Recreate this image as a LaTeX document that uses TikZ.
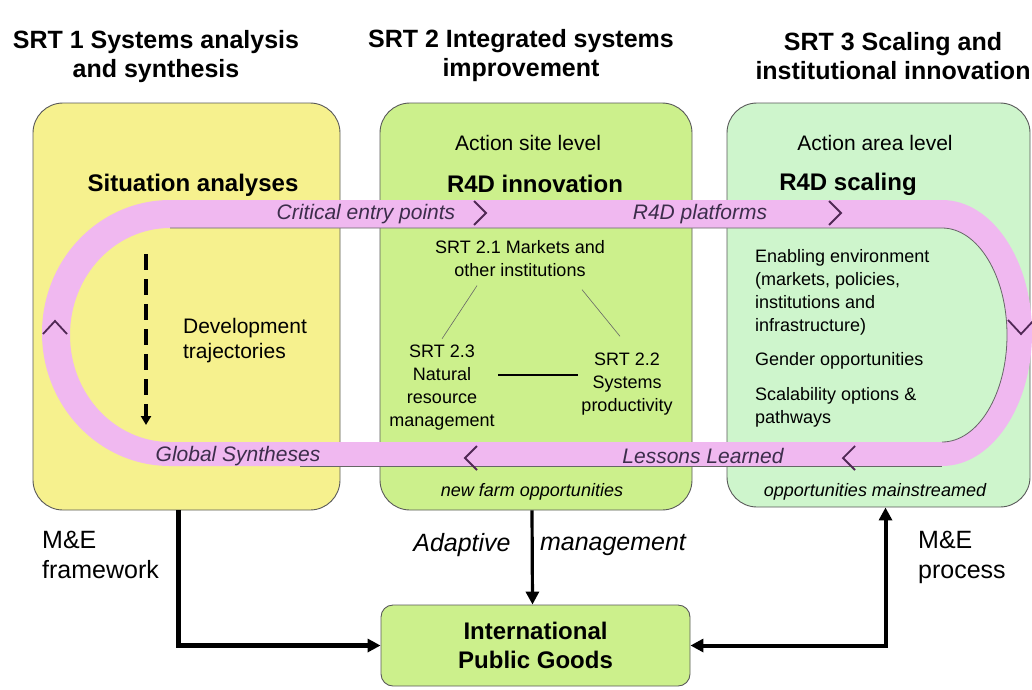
\documentclass[tikz,border=0pt]{standalone}
\usepackage{fontspec}
\setmainfont{Liberation Sans}
\usetikzlibrary{arrows.meta}

\definecolor{srtyellow}{RGB}{246,241,142}
\definecolor{srtgreen}{RGB}{204,240,140}
\definecolor{srtmint}{RGB}{206,245,204}
\definecolor{loopband}{RGB}{240,184,240}
\definecolor{chevron}{RGB}{80,40,85}
\definecolor{looptext}{RGB}{60,45,75}

\begin{document}
\begin{tikzpicture}[x=1pt, y=-1pt,
            panel/.style={draw=black!65, line width=0.9pt, rounded corners=30pt, inner sep=0pt},
            title/.style={font=\fontsize{25}{29}\selectfont\bfseries, align=center},
            level/.style={font=\fontsize{21}{25}\selectfont},
            head/.style={font=\fontsize{24}{28}\selectfont\bfseries},
            looplabel/.style={font=\fontsize{21}{25}\selectfont\itshape, text=looptext},
            small/.style={font=\fontsize{18}{23}\selectfont, align=center},
            note/.style={font=\fontsize{18}{22}\selectfont\itshape},
            side/.style={font=\fontsize{25}{30}\selectfont, align=left, anchor=west, inner sep=0pt},
            chev/.style={draw=chevron, line width=1.8pt},
            flow/.style={line width=4pt, -{Triangle[length=13pt,width=13pt]}}
        ]

        \useasboundingbox (0,0) rectangle (1032,689);

        \node [title] (T1) at (156, 57) {SRT 1 Systems analysis\\and synthesis};
        \node [title] (T2) at (521, 56) {SRT 2 Integrated systems\\improvement};
        \node [title] (T3) at (893, 56) {SRT 3 Scaling and\\institutional innovation};

        \node [panel, fill=srtyellow, minimum width=307pt, minimum height=407pt] (Box1) at (186.5, 306.5) {};
        \node [panel, fill=srtgreen, minimum width=312pt, minimum height=407pt] (Box2) at (536, 306.5) {};
        \node [panel, fill=srtmint, minimum width=303pt, minimum height=404pt] (Box3) at (878.5, 305) {};

        % feedback loop
        \fill [loopband, even odd rule]
            (170, 200) -- (942, 200) arc [start angle=-90, end angle=90, x radius=90, y radius=133]
            -- (170, 466) arc [start angle=90, end angle=270, x radius=128, y radius=133] -- cycle
            (170, 228) -- (942, 228) arc [start angle=-90, end angle=90, x radius=65, y radius=107]
            -- (170, 442) arc [start angle=90, end angle=270, x radius=100, y radius=107] -- cycle;
        \draw [black!60, line width=0.8pt] (170, 228) -- (942, 228)
            arc [start angle=-90, end angle=90, x radius=65, y radius=107];
        \draw [black!60, line width=0.8pt] (300, 466) -- (942, 466);

        \draw [chev] (474, 201) -- (486, 213) -- (474, 225);
        \draw [chev] (829, 201) -- (841, 213) -- (829, 225);
        \draw [chev] (477, 446) -- (465, 458) -- (477, 470);
        \draw [chev] (855, 446) -- (843, 458) -- (855, 470);
        \draw [chev] (43, 334) -- (55, 321) -- (67, 334);
        \draw [chev] (1008, 320) -- (1021, 334) -- (1034, 320);

        \node [looplabel] (Entry) at (366, 214) {Critical entry points};
        \node [looplabel] (Platf) at (700, 214) {R4D platforms};
        \node [looplabel] (GSyn) at (238, 456) {Global Syntheses};
        \node [looplabel] (Lessons) at (703, 456) {Lessons Learned};

        % SRT 1
        \node [head] (Sit) at (193, 185) {Situation analyses};
        \node [level, align=left] (Dev) at (245, 341) {Development\\trajectories};
        \coordinate (DevTop) at (146, 254);
        \coordinate (DevEnd) at (146, 425);
        \draw [line width=4pt, dash pattern=on 16pt off 9pt, -{Triangle[length=9pt,width=10pt]}] (DevTop) -- (DevEnd);

        % SRT 2
        \node [level] (Site) at (528, 143) {Action site level};
        \node [head] (Innov) at (535, 184) {R4D innovation};
        \node [small] (S21) at (520, 259) {SRT 2.1 Markets and\\other institutions};
        \node [small] (S23) at (442, 388) {SRT 2.3\\Natural\\resource\\management};
        \node [small] (S22) at (627, 384) {SRT 2.2\\Systems\\productivity};
        \draw [black!60, line width=0.6pt] ([xshift=-43pt, yshift=-5pt]S21.south) -- ([yshift=3pt]S23.north);
        \draw [black!60, line width=0.6pt] ([xshift=62pt, yshift=-9pt]S21.south) -- ([xshift=-7pt, yshift=13pt]S22.north);
        \draw [line width=1.4pt] ([yshift=13pt]S23.east) -- ([yshift=13pt]S23.east -| S22.west);
        \node [note] (NewFarm) at (532, 492) {new farm opportunities};

        % SRT 3
        \node [level] (Area) at (875, 143) {Action area level};
        \node [head] (Scal) at (848, 184) {R4D scaling};
        \node [small, align=left, anchor=west, inner sep=0pt] (Env) at (755, 292) {Enabling environment\\(markets, policies,\\institutions and\\infrastructure)};
        \node [small, anchor=west, inner sep=0pt] (Gender) at (755, 361) {Gender opportunities};
        \node [small, align=left, anchor=west, inner sep=0pt] (Paths) at (755, 407) {Scalability options \&\\pathways};
        \node [note] (Main) at (875, 492) {opportunities mainstreamed};

        % bottom
        \node [panel, rounded corners=12pt, fill=srtgreen, minimum width=309pt, minimum height=81pt,
            font=\fontsize{24}{29}\selectfont\bfseries, align=center] (IPG) at (535.5, 645.5) {International\\Public Goods};

        \draw [flow, line width=4.5pt] ([xshift=-8pt]Box1.south) |- (IPG.west);
        \draw [flow, line width=3.2pt] ([xshift=-4pt]Box2.south) -- ([xshift=-3pt]IPG.north);
        \draw [flow, {Triangle[length=13pt,width=13pt]}-{Triangle[length=13pt,width=13pt]}] (IPG.east) -| ([xshift=7pt]Box3.south);

        \node [side] (MEF) at (42, 555) {M\&E\\framework};
        \node [side, font=\fontsize{25}{30}\selectfont\itshape, anchor=center] (Adapt) at (462, 545) {Adaptive};
        \node [side, font=\fontsize{25}{30}\selectfont\itshape, anchor=center] (Manage) at (613, 545) {management};
        \node [side] (MEP) at (918, 557) {M\&E\\process};

        \end{tikzpicture}
\end{document}
